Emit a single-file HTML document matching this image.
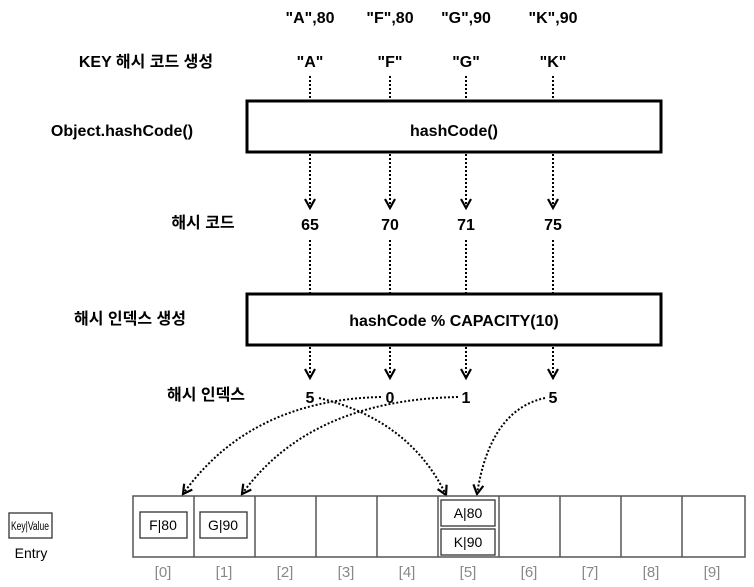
<!DOCTYPE html>
<html><head><meta charset="utf-8"><style>
body{margin:0;background:#fff;}
svg{display:block;font-family:"Liberation Sans","Noto Sans CJK KR",sans-serif;}
</style></head><body>
<svg width="754" height="587" viewBox="0 0 754 587" xmlns="http://www.w3.org/2000/svg">
<defs>
<marker id="b" markerWidth="14" markerHeight="14" refX="10" refY="6" orient="auto" markerUnits="userSpaceOnUse"><path d="M1,1 L10,6 L1,11" fill="none" stroke="#000" stroke-width="2.2"/></marker></defs>
<g font-size="16" font-weight="bold" text-anchor="middle">
<text x="310" y="23">"A",80</text><text x="390" y="23">"F",80</text><text x="466" y="23">"G",90</text><text x="553" y="23">"K",90</text>
<text x="310" y="67">"A"</text><text x="390" y="67">"F"</text><text x="466" y="67">"G"</text><text x="553" y="67">"K"</text>
<text x="146" y="67">KEY 해시 코드 생성</text>
<text x="122" y="136">Object.hashCode()</text>
<text x="454" y="136">hashCode()</text>
<text x="310" y="230">65</text><text x="390" y="230">70</text><text x="466" y="230">71</text><text x="553" y="230">75</text>
<text x="203" y="228">해시 코드</text>
<text x="130" y="324">해시 인덱스 생성</text>
<text x="454" y="326">hashCode % CAPACITY(10)</text>
<text x="206" y="400">해시 인덱스</text>
<text x="310" y="403">5</text><text x="390" y="403">0</text><text x="466" y="403">1</text><text x="553" y="403">5</text>
</g>
<rect x="247" y="101" width="414" height="51" fill="none" stroke="#000" stroke-width="3"/>
<rect x="247" y="294" width="414" height="51" fill="none" stroke="#000" stroke-width="3"/>
<g stroke="#000" stroke-width="2" stroke-dasharray="2,2" fill="none">
<line x1="310" y1="76" x2="310" y2="100"/><line x1="390" y1="76" x2="390" y2="100"/><line x1="466" y1="76" x2="466" y2="100"/><line x1="553" y1="76" x2="553" y2="100"/>
<line x1="310" y1="240" x2="310" y2="293"/><line x1="390" y1="240" x2="390" y2="293"/><line x1="466" y1="240" x2="466" y2="293"/><line x1="553" y1="240" x2="553" y2="293"/>
<line x1="310" y1="154" x2="310" y2="208" marker-end="url(#b)"/><line x1="390" y1="154" x2="390" y2="208" marker-end="url(#b)"/><line x1="466" y1="154" x2="466" y2="208" marker-end="url(#b)"/><line x1="553" y1="154" x2="553" y2="208" marker-end="url(#b)"/>
<line x1="310" y1="347" x2="310" y2="378" marker-end="url(#b)"/><line x1="390" y1="347" x2="390" y2="378" marker-end="url(#b)"/><line x1="466" y1="347" x2="466" y2="378" marker-end="url(#b)"/><line x1="553" y1="347" x2="553" y2="378" marker-end="url(#b)"/>
<path d="M319,398 Q410,420 446,495" marker-end="url(#b)"/>
<path d="M381,397 Q250,400 183,494" marker-end="url(#b)"/>
<path d="M458,397 Q310,400 242,494" marker-end="url(#b)"/>
<path d="M545,398 Q490,410 477,494" marker-end="url(#b)"/>
</g>
<rect x="133" y="496" width="612" height="61" fill="none" stroke="#555" stroke-width="1.5"/>
<g stroke="#555" stroke-width="1.5">
<line x1="194" y1="496" x2="194" y2="557"/><line x1="255" y1="496" x2="255" y2="557"/><line x1="316" y1="496" x2="316" y2="557"/><line x1="377" y1="496" x2="377" y2="557"/><line x1="438" y1="496" x2="438" y2="557"/><line x1="499" y1="496" x2="499" y2="557"/><line x1="560" y1="496" x2="560" y2="557"/><line x1="621" y1="496" x2="621" y2="557"/><line x1="682" y1="496" x2="682" y2="557"/>
</g>
<g fill="none" stroke="#333" stroke-width="1.3">
<rect x="140" y="512" width="47" height="26"/><rect x="200" y="512" width="47" height="26"/>
<rect x="441" y="500" width="54" height="26"/><rect x="441" y="529" width="54" height="26"/>
<rect x="9" y="513" width="43" height="25"/>
</g>
<g font-size="14" text-anchor="middle">
<text x="163" y="530">F|80</text><text x="223" y="530">G|90</text><text x="468" y="518">A|80</text><text x="468" y="547">K|90</text>
<text x="30" y="530" font-size="11.5" textLength="38" lengthAdjust="spacingAndGlyphs">Key|Value</text>
<text x="31" y="558" font-size="14">Entry</text>
</g>
<g font-size="15" fill="#888" text-anchor="middle">
<text x="163" y="577">[0]</text><text x="224" y="577">[1]</text><text x="285" y="577">[2]</text><text x="346" y="577">[3]</text><text x="407" y="577">[4]</text><text x="468" y="577">[5]</text><text x="529" y="577">[6]</text><text x="590" y="577">[7]</text><text x="651" y="577">[8]</text><text x="712" y="577">[9]</text>
</g>
</svg>
</body></html>
